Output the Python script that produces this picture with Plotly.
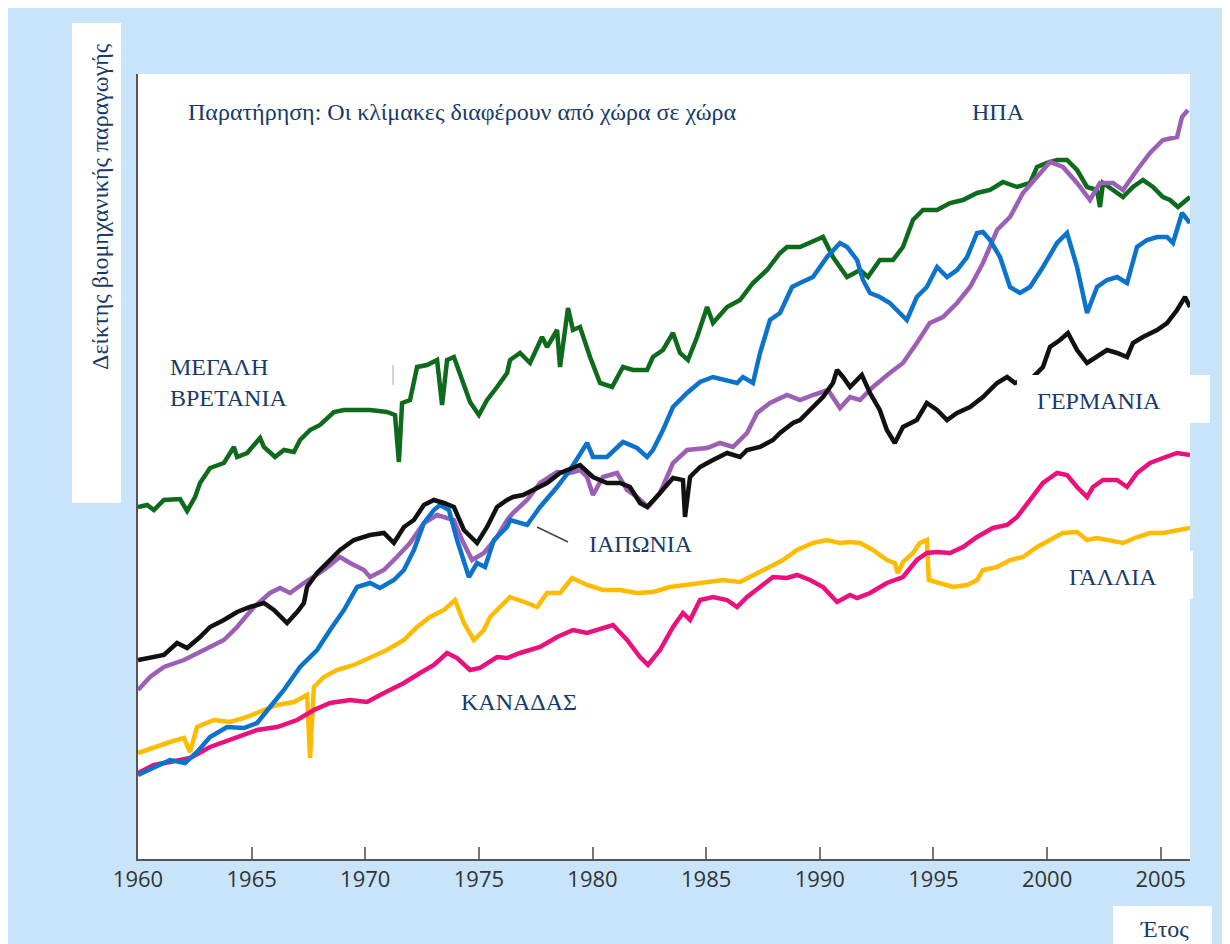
import plotly.graph_objects as go

# ---------------- data (index, arbitrary units; scales differ by country) ----------------
uk_year = [1960.0, 1960.4, 1960.7, 1961.14, 1961.85, 1962.16, 1962.51, 1962.73, 1963.17, 1963.78,
           1964.22, 1964.36, 1964.8, 1965.37, 1965.54, 1966.03, 1966.42, 1966.86, 1967.13, 1967.57,
           1968.01, 1968.62, 1969.06, 1970.21, 1970.95, 1971.31, 1971.48, 1971.62, 1971.97, 1972.28,
           1972.72, 1973.16, 1973.38, 1973.6, 1973.9, 1974.17, 1974.61, 1975.0, 1975.36, 1975.8,
           1976.24, 1976.37, 1976.81, 1977.25, 1977.78, 1978.0, 1978.44, 1978.57, 1978.92, 1979.14,
           1979.45, 1979.89, 1980.33, 1980.86, 1981.34, 1981.78, 1982.4, 1982.66, 1983.1, 1983.54,
           1983.85, 1984.2, 1984.6, 1985.04, 1985.3, 1985.92, 1986.49, 1987.06, 1987.68, 1988.25,
           1988.56, 1989.13, 1989.57, 1990.14, 1990.58, 1991.2, 1991.77, 1992.12, 1992.64, 1993.22,
           1993.66, 1994.1, 1994.54, 1995.16, 1995.73, 1996.3, 1996.92, 1997.49, 1998.06, 1998.68,
           1999.25, 1999.56, 2000.0, 2000.44, 2000.88, 2001.32, 2001.76, 2002.2, 2002.33, 2002.46,
           2002.9, 2003.34, 2003.78, 2004.22, 2004.66, 2005.1, 2005.41, 2005.76, 2006.29]
uk_val = [352, 354, 349, 359, 360, 348, 362, 376, 391, 396,
          412, 402, 406, 421, 412, 402, 409, 407, 419, 429,
          434, 447, 449, 449, 447, 444, 397, 456, 459, 492,
          494, 499, 454, 499, 502, 486, 457, 444, 459, 472,
          486, 499, 506, 496, 522, 512, 529, 492, 551, 529,
          532, 502, 476, 472, 492, 489, 489, 502, 509, 526,
          506, 499, 522, 552, 536, 552, 559, 576, 589, 606,
          612, 612, 616, 622, 602, 582, 589, 582, 599, 599,
          612, 639, 649, 649, 656, 659, 666, 669, 677, 672,
          676, 692, 696, 699, 699, 689, 672, 669, 652, 676,
          669, 662, 672, 679, 672, 662, 659, 652, 662]

jp_year = [1960.0, 1960.7, 1961.41, 1962.07, 1962.6, 1963.17, 1963.92, 1964.66, 1965.24, 1965.81,
           1966.42, 1967.13, 1967.88, 1968.45, 1969.06, 1969.64, 1970.21, 1970.65, 1971.26, 1971.7,
           1972.14, 1972.58, 1973.02, 1973.29, 1973.68, 1974.04, 1974.56, 1974.92, 1975.27, 1975.66,
           1976.24, 1976.37, 1977.12, 1977.69, 1978.44, 1979.01, 1979.45, 1979.76, 1980.02, 1980.64,
           1981.34, 1981.96, 1982.4, 1982.66, 1983.1, 1983.54, 1984.16, 1984.73, 1985.3, 1985.92,
           1986.36, 1986.62, 1987.06, 1987.37, 1987.81, 1988.25, 1988.78, 1989.13, 1989.7, 1990.32,
           1990.89, 1991.2, 1991.64, 1991.9, 1992.21, 1992.64, 1993.08, 1993.52, 1993.83, 1994.27,
           1994.71, 1995.16, 1995.6, 1996.04, 1996.48, 1996.92, 1997.18, 1997.49, 1997.93, 1998.37,
           1998.81, 1999.25, 1999.82, 2000.44, 2000.88, 2001.32, 2001.76, 2002.2, 2002.64, 2003.08,
           2003.52, 2003.96, 2004.4, 2004.84, 2005.28, 2005.54, 2005.94, 2006.29]
jp_val = [84, 92, 99, 96, 107, 122, 132, 131, 136, 152,
          169, 192, 209, 229, 249, 272, 276, 271, 279, 289,
          309, 336, 349, 354, 349, 319, 282, 296, 292, 319,
          332, 339, 334, 352, 372, 389, 406, 416, 402, 402,
          417, 411, 402, 409, 429, 452, 466, 477, 482, 479,
          476, 482, 476, 506, 539, 546, 572, 576, 582, 602,
          616, 612, 599, 579, 566, 562, 556, 546, 539, 562,
          572, 592, 582, 589, 602, 626, 627, 619, 602, 572,
          566, 572, 592, 616, 626, 592, 546, 572, 579, 582,
          576, 612, 619, 622, 622, 616, 646, 636]

de_year = [1960.0, 1960.53, 1961.14, 1961.72, 1962.16, 1962.73, 1963.17, 1963.78, 1964.36, 1964.93,
           1965.54, 1965.98, 1966.56, 1967.0, 1967.3, 1967.44, 1967.88, 1968.45, 1968.89, 1969.5,
           1970.21, 1970.82, 1971.26, 1971.7, 1972.14, 1972.58, 1973.02, 1973.46, 1973.9, 1974.34,
           1974.92, 1975.36, 1975.8, 1976.24, 1976.5, 1976.94, 1977.38, 1978.0, 1978.57, 1979.45,
           1980.02, 1980.64, 1981.21, 1981.65, 1982.09, 1982.4, 1982.97, 1983.54, 1983.98, 1984.07,
           1984.29, 1984.73, 1985.3, 1985.92, 1986.49, 1986.8, 1987.37, 1987.94, 1988.25, 1988.82,
           1989.13, 1989.7, 1990.14, 1990.58, 1990.76, 1991.02, 1991.33, 1991.85, 1992.21, 1992.64,
           1992.95, 1993.3, 1993.66, 1994.27, 1994.71, 1995.16, 1995.6, 1996.04, 1996.61, 1997.18,
           1997.8, 1998.24, 1998.59, 1999.38, 1999.82, 2000.13, 2000.57, 2000.92, 2001.32, 2001.76,
           2002.2, 2002.64, 2003.08, 2003.52, 2003.78, 2004.22, 2004.84, 2005.28, 2005.72, 2006.07,
           2006.29]
de_val = [199, 201, 204, 216, 211, 222, 232, 239, 247, 252,
          256, 249, 236, 247, 256, 272, 286, 299, 309, 319,
          324, 326, 316, 332, 339, 354, 359, 356, 352, 329,
          316, 332, 352, 359, 362, 364, 369, 376, 386, 394,
          382, 376, 376, 372, 356, 352, 366, 381, 379, 342,
          382, 392, 399, 406, 402, 409, 412, 419, 426, 436,
          439, 452, 462, 476, 489, 482, 472, 484, 466, 449,
          429, 416, 432, 439, 456, 449, 439, 446, 452, 462,
          476, 482, 476, 482, 492, 512, 519, 526, 509, 496,
          502, 509, 506, 502, 516, 522, 529, 536, 549, 562,
          552]

us_year = [1960.0, 1960.53, 1961.14, 1962.02, 1962.9, 1963.78, 1964.36, 1965.1, 1965.81, 1966.25,
           1966.69, 1967.3, 1968.18, 1968.89, 1969.33, 1969.94, 1970.21, 1970.82, 1971.39, 1971.97,
           1972.58, 1973.16, 1973.9, 1974.26, 1974.7, 1975.22, 1975.8, 1976.24, 1976.5, 1977.12,
           1977.69, 1978.44, 1979.01, 1979.45, 1979.76, 1980.02, 1980.46, 1981.08, 1981.52, 1981.96,
           1982.44, 1982.97, 1983.54, 1984.16, 1985.04, 1985.61, 1986.18, 1986.8, 1987.24, 1987.81,
           1988.56, 1989.13, 1989.7, 1990.36, 1990.89, 1991.33, 1991.77, 1992.34, 1993.08, 1993.66,
           1994.27, 1994.84, 1995.42, 1996.04, 1996.61, 1997.18, 1997.8, 1998.37, 1998.94, 1999.56,
           2000.13, 2000.7, 2001.32, 2001.89, 2002.33, 2002.9, 2003.34, 2003.96, 2004.53, 2005.1,
           2005.72, 2005.94, 2006.2]
us_val = [169, 182, 192, 199, 209, 219, 232, 252, 266, 271,
          266, 276, 289, 302, 296, 289, 282, 289, 302, 316,
          336, 344, 339, 319, 299, 306, 322, 339, 346, 359,
          376, 387, 386, 389, 382, 364, 382, 386, 369, 362,
          352, 366, 396, 409, 411, 416, 412, 426, 446, 456,
          464, 459, 464, 469, 451, 462, 459, 472, 486, 496,
          516, 536, 542, 556, 572, 596, 629, 642, 666, 682,
          697, 692, 676, 659, 676, 676, 669, 689, 706, 719,
          722, 742, 749]

ca_year = [1960.0, 1960.7, 1961.41, 1962.29, 1963.17, 1964.36, 1965.24, 1966.12, 1967.0, 1967.74,
           1968.45, 1969.33, 1970.08, 1970.82, 1971.7, 1972.41, 1973.02, 1973.6, 1974.04, 1974.61,
           1975.05, 1975.8, 1976.24, 1976.81, 1977.69, 1978.44, 1979.14, 1979.76, 1980.2, 1980.9,
           1981.52, 1982.09, 1982.44, 1982.97, 1983.54, 1983.98, 1984.29, 1984.73, 1985.3, 1985.92,
           1986.36, 1986.8, 1987.37, 1987.94, 1988.56, 1989.0, 1989.57, 1990.14, 1990.76, 1991.33,
           1991.64, 1992.21, 1992.95, 1993.66, 1994.27, 1994.71, 1995.16, 1995.73, 1996.3, 1996.92,
           1997.62, 1998.24, 1998.68, 1999.25, 1999.82, 2000.44, 2000.88, 2001.32, 2001.76, 2002.02,
           2002.46, 2003.08, 2003.52, 2003.96, 2004.53, 2005.1, 2005.72, 2006.29]
ca_val = [86, 94, 97, 101, 112, 122, 129, 132, 139, 149,
          156, 159, 157, 166, 176, 186, 194, 206, 201, 189,
          191, 202, 201, 206, 212, 222, 229, 226, 229, 234,
          219, 202, 194, 209, 232, 246, 239, 259, 262, 259,
          252, 262, 272, 282, 281, 284, 279, 272, 257, 264,
          261, 266, 276, 282, 299, 306, 307, 306, 312, 322,
          331, 334, 342, 359, 376, 386, 384, 372, 362, 372,
          379, 379, 372, 386, 396, 401, 406, 404]

fr_year = [1960.0, 1960.7, 1961.41, 1962.02, 1962.29, 1962.6, 1963.34, 1964.05, 1964.8, 1965.54,
           1966.12, 1966.86, 1967.44, 1967.57, 1967.74, 1968.18, 1968.75, 1969.5, 1970.21, 1970.95,
           1971.7, 1972.28, 1972.85, 1973.46, 1973.95, 1974.34, 1974.78, 1975.22, 1975.49, 1976.1,
           1976.37, 1977.12, 1977.56, 1978.0, 1978.57, 1979.1, 1979.76, 1980.46, 1981.21, 1981.96,
           1982.66, 1983.41, 1984.16, 1985.04, 1985.74, 1986.49, 1987.24, 1987.81, 1988.38, 1989.0,
           1989.7, 1990.32, 1990.89, 1991.33, 1991.77, 1992.34, 1992.95, 1993.3, 1993.43, 1993.66,
           1994.1, 1994.4, 1994.71, 1994.8, 1995.29, 1995.86, 1996.48, 1996.92, 1997.18, 1997.8,
           1998.37, 1998.94, 1999.56, 2000.13, 2000.7, 2001.32, 2001.76, 2002.2, 2002.77, 2003.34,
           2003.96, 2004.53, 2005.1, 2005.72, 2006.29]
fr_val = [106, 112, 117, 121, 107, 132, 139, 137, 142, 149,
          154, 157, 164, 101, 172, 182, 189, 194, 201, 209,
          219, 232, 242, 249, 259, 236, 219, 229, 242, 256,
          262, 256, 252, 266, 266, 281, 274, 269, 269, 266,
          267, 272, 274, 277, 279, 277, 286, 292, 299, 309,
          316, 319, 316, 317, 316, 309, 299, 296, 286, 297,
          306, 316, 319, 279, 276, 272, 274, 279, 289, 292,
          299, 302, 312, 319, 326, 327, 319, 321, 319, 316,
          322, 326, 326, 329, 331]

tick_years = [1960, 1965, 1970, 1975, 1980, 1985, 1990, 1995, 2000, 2005]
tick_text = [str(y) for y in tick_years]

series = [
    ("ΜΕΓΑΛΗ ΒΡΕΤΑΝΙΑ", uk_year, uk_val, "#0e6b1c"),
    ("ΓΑΛΛΙΑ", fr_year, fr_val, "#ffbb00"),
    ("ΚΑΝΑΔΑΣ", ca_year, ca_val, "#ec107d"),
    ("ΗΠΑ", us_year, us_val, "#9b5fb6"),
    ("ΙΑΠΩΝΙΑ", jp_year, jp_val, "#0b73cb"),
    ("ΓΕΡΜΑΝΙΑ", de_year, de_val, "#111111"),
]

# ---------------- layout (the page adds an 8px body margin) ----------------
OFF = 8
W, H = 1222, 936
L, R, T, B = 130, 1182, 66, 851          # plot area in figure pixels
def px(x):                                # screenshot x -> paper
    return (x - OFF - L) / (R - L)
def py(y):                                # screenshot y -> paper
    return (B - (y - OFF)) / (B - T)

fig = go.Figure()
for name, xs, ys, col in series:
    fig.add_trace(go.Scatter(x=xs, y=ys, mode="lines", name=name,
                             line=dict(color=col, width=4.5), showlegend=False,
                             hoverinfo="skip"))

navy = "#173a6a"
serif = "Liberation Serif, Times New Roman, serif"

shapes = [
    # y-title box
    dict(type="rect", xref="paper", yref="paper", x0=px(72), x1=px(121), y0=py(503), y1=py(23),
         fillcolor="white", line=dict(width=0), layer="below"),
    # label boxes (cover lines)
    dict(type="rect", xref="paper", yref="paper", x0=px(1017), x1=px(1210), y0=py(423), y1=py(375),
         fillcolor="white", line=dict(width=0), layer="above"),
    dict(type="rect", xref="paper", yref="paper", x0=px(1045), x1=px(1193), y0=py(599), y1=py(551),
         fillcolor="white", line=dict(width=0), layer="above"),
    dict(type="rect", xref="paper", yref="paper", x0=px(1113), x1=px(1212), y0=py(950), y1=py(906),
         fillcolor="white", line=dict(width=0), layer="below"),
    # pointer for Japan
    dict(type="line", xref="paper", yref="paper", x0=px(537), y0=py(527), x1=px(568), y1=py(542),
         line=dict(color="#444444", width=1.5), layer="above"),
    # small grey mark
    dict(type="line", xref="paper", yref="paper", x0=px(393), y0=py(365), x1=px(393), y1=py(385),
         line=dict(color="#aaaaaa", width=1), layer="above"),
]

def ann(text, x, y, xanchor="left", size=24, align="left", textangle=0):
    return dict(text=text, x=px(x), y=py(y), xref="paper", yref="paper", showarrow=False,
                xanchor=xanchor, yanchor="middle", align=align, textangle=textangle,
                font=dict(family=serif, size=size, color=navy))

annotations = [
    ann("Παρατήρηση: Οι κλίμακες διαφέρουν από χώρα σε χώρα", 186, 112),
    ann("ΗΠΑ", 970, 112),
    ann("ΜΕΓΑΛΗ<br>ΒΡΕΤΑΝΙΑ", 168, 382),
    ann("ΙΑΠΩΝΙΑ", 587, 544),
    ann("ΚΑΝΑΔΑΣ", 459, 702),
    ann("ΓΕΡΜΑΝΙΑ", 1035, 401),
    ann("ΓΑΛΛΙΑ", 1067, 577),
    ann("Έτος", 1138, 929),
    ann("Δείκτης βιομηχανικής παραγωγής", 100, 207, xanchor="center", textangle=-90),
]

fig.update_layout(
    width=W, height=H,
    margin=dict(l=L, r=W - R, t=T, b=H - B, pad=0),
    paper_bgcolor="#c8e4fb",
    plot_bgcolor="white",
    shapes=shapes,
    annotations=annotations,
    showlegend=False,
    xaxis=dict(range=[1960, 2006.29], tickmode="array", tickvals=tick_years, ticktext=tick_text,
               ticks="inside", ticklen=12, tickwidth=1.5, tickcolor="#777777",
               showline=True, linecolor="#555555", linewidth=2, showgrid=False, zeroline=False,
               tickfont=dict(family="Open Sans, DejaVu Sans, sans-serif", size=22, color="#333333"),
               fixedrange=True),
    yaxis=dict(range=[0, 785], showticklabels=False, ticks="", showgrid=False, zeroline=False,
               showline=True, linecolor="#555555", linewidth=2, fixedrange=True),
)

fig.write_html("out.html")
